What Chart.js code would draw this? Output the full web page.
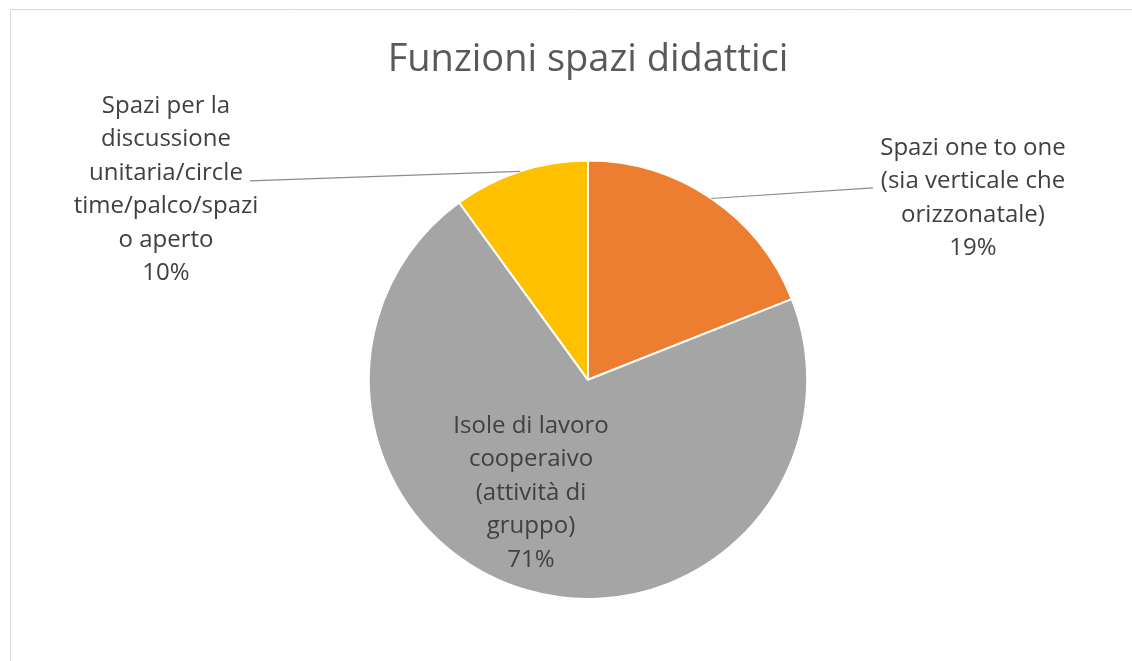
<!DOCTYPE html>
<html>
<head>
<meta charset="utf-8">
<script src="https://cdn.jsdelivr.net/npm/chart.js@4"></script>
<style>
  html, body { margin: 0; padding: 0; background: #fff; }
  #wrap { width: 1132px; height: 661px; }
</style>
</head>
<body>
<div id="wrap"><canvas id="torta"></canvas></div>
<script>
const TITOLO = "Funzioni spazi didattici";

const CATEGORIE = [
  "Spazi one to one (sia verticale che orizzonatale)",
  "Isole di lavoro cooperaivo (attività di gruppo)",
  "Spazi per la discussione unitaria/circle time/palco/spazio aperto",
];

const PERCENTUALI = [19, 71, 10];

const COLORI = ["#ED7D31", "#A5A5A5", "#FFC000"];

// righe delle etichette, come vanno a capo nel grafico
const RIGHE_ETICHETTE = [
  ["Spazi one to one", "(sia verticale che", "orizzonatale)"],
  ["Isole di lavoro", "cooperaivo", "(attività di", "gruppo)"],
  ["Spazi per la", "discussione", "unitaria/circle", "time/palco/spazi", "o aperto"],
];

const FONT = '"Open Sans", sans-serif';
const TEXT_COLOR = "#595959";

// posizione delle etichette rispetto al centro della torta (px)
// lx, ly = centro della prima riga; tx, ty = fine della linea guida (null = niente linea)
const POS_ETICHETTE = [
  { lx: 385, ly: -232, tx: 285, ty: -192 },
  { lx: -57, ly: 46, tx: null, ty: null },
  { lx: -422, ly: -274, tx: -338, ty: -199 },
];
const INTERLINEA = 33.5;

const cornice = {
  id: "cornice",
  beforeDraw(chart) {
    const ctx = chart.ctx;
    ctx.save();
    ctx.strokeStyle = "#D9D9D9";
    ctx.lineWidth = 1;
    ctx.beginPath();
    ctx.moveTo(10.5, chart.height);
    ctx.lineTo(10.5, 9.5);
    ctx.lineTo(chart.width, 9.5);
    ctx.stroke();
    ctx.restore();
  }
};

const etichette = {
  id: "etichette",
  afterDatasetsDraw(chart) {
    const ctx = chart.ctx;
    const meta = chart.getDatasetMeta(0);
    ctx.save();
    meta.data.forEach((arc, i) => {
      const { x, y, startAngle, endAngle, outerRadius } = arc.getProps(["x", "y", "startAngle", "endAngle", "outerRadius"], true);
      const p = POS_ETICHETTE[i];
      if (p.tx !== null) {
        const mid = (startAngle + endAngle) / 2;
        ctx.strokeStyle = "#8C8C8C";
        ctx.lineWidth = 1.2;
        ctx.beginPath();
        ctx.moveTo(x + Math.cos(mid) * outerRadius, y + Math.sin(mid) * outerRadius);
        ctx.lineTo(x + p.tx, y + p.ty);
        ctx.stroke();
      }
      const righe = RIGHE_ETICHETTE[i].concat([PERCENTUALI[i] + "%"]);
      ctx.fillStyle = "#404040";
      ctx.font = "24px " + FONT;
      ctx.textAlign = "center";
      ctx.textBaseline = "middle";
      righe.forEach((r, j) => {
        ctx.fillText(r, x + p.lx, y + p.ly + j * INTERLINEA);
      });
    });
    ctx.restore();
  }
};

new Chart(document.getElementById("torta"), {
  type: "pie",
  data: {
    labels: CATEGORIE,
    datasets: [{
      data: PERCENTUALI,
      backgroundColor: COLORI,
      borderColor: "#FFFFFF",
      borderWidth: 2,
    }]
  },
  options: {
    responsive: true,
    maintainAspectRatio: false,
    animation: false,
    layout: { padding: { top: 0, bottom: 61, left: 100, right: 56 } },
    plugins: {
      legend: { display: false },
      tooltip: { enabled: false },
      title: {
        display: true,
        text: TITOLO,
        color: TEXT_COLOR,
        font: { family: FONT, size: 38, weight: "normal" },
        padding: { top: 37, bottom: 77 },
      }
    }
  },
  plugins: [cornice, etichette]
});
</script>
</body>
</html>
